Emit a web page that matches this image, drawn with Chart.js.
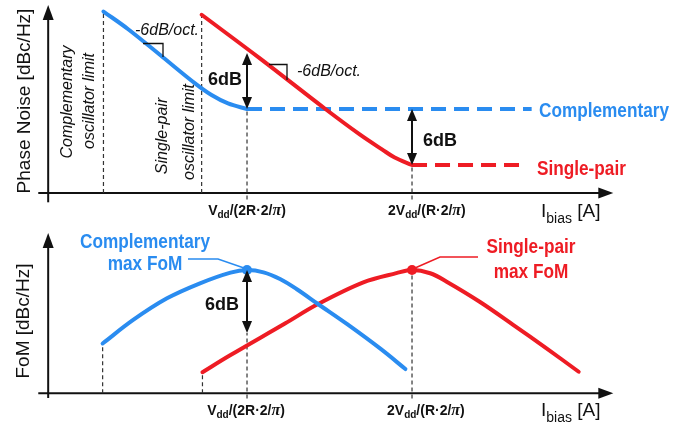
<!DOCTYPE html>
<html>
<head>
<meta charset="utf-8">
<script src="https://cdn.jsdelivr.net/npm/chart.js@4/dist/chart.umd.min.js"></script>
<style>
  html, body { margin: 0; padding: 0; background: #fff; }
  #wrap { position: relative; width: 695px; height: 428px; overflow: hidden; background: #fff; }
  canvas { position: absolute; left: 0; }
  #pn { top: 0; }
  #fom { top: 222px; }
</style>
</head>
<body>
<div id="wrap">
  <canvas id="pn" width="695" height="228"></canvas>
  <canvas id="fom" width="695" height="206"></canvas>
</div>
<script>
// x: bias current in octaves relative to Vdd/(2R·2/π); y: relative level in dB

// Phase noise, complementary oscillator (slope region, then current-limited floor)
const pnCompX = [-1.74, -1.44, -1.02, -0.63, -0.43, -0.23, 0];
const pnCompY = [10.45, 8.55, 5.55, 2.75, 1.5, 0.6, 0];
const pnCompFloorX = [0, 3.45];
const pnCompFloorY = [0, 0];

// Phase noise, single-pair oscillator
const pnSingleX = [-0.55, 0.16, 0.95, 1.37, 1.64, 1.79, 2];
const pnSingleY = [10.1, 5.4, 0, -2.75, -4.35, -5.2, -6];
const pnSingleFloorX = [2, 3.37];
const pnSingleFloorY = [-6, -6];

// Figure of merit, complementary
const fomCompX = [-1.75, -1.38, -0.97, -0.57, -0.2, 0, 0.2, 0.4, 0.6, 0.86, 1.21, 1.62, 1.92];
const fomCompY = [-7.0, -4.76, -2.7, -1.27, -0.25, 0, -0.22, -0.86, -1.81, -3.24, -5.14, -7.52, -9.43];

// Figure of merit, single-pair
const fomSingleX = [-0.54, -0.21, 0.46, 0.86, 1.41, 1.81, 2, 2.22, 2.42, 2.82, 3.23, 3.63, 4.02];
const fomSingleY = [-9.74, -8.15, -5.1, -3.24, -1.17, -0.3, 0, -0.31, -1.11, -3.02, -5.24, -7.46, -9.69];

// Marked bias points on the x axis
const tickValues = [0, 2];
const tickPre = ['V', '2V'];
const tickSub = ['dd', 'dd'];
const tickPost = ['/(2R\u00B72/', '/(R\u00B72/'];

const gapDb = 6;          // difference between the two oscillators
const slopeText = '-6dB/oct.';

const BLUE = '#2a8cf0';
const RED = '#ee1c24';
const INK = '#111111';
const SANS = '"Liberation Sans", Arial, Helvetica, sans-serif';
const SERIF = '"Liberation Serif", "Times New Roman", serif';

const X_MIN = -2.994, X_MAX = 5.430;
const PN_AXIS = -9.0, FOM_AXIS = -11.74;

const pts = (xs, ys) => xs.map((x, i) => ({ x, y: ys[i] }));

// ---------- drawing helpers ----------
function seg(ctx, x1, y1, x2, y2) {
  ctx.beginPath(); ctx.moveTo(x1, y1); ctx.lineTo(x2, y2); ctx.stroke();
}
function head(ctx, x, y, dir, len, half) {
  ctx.beginPath();
  if (dir === 'up') { ctx.moveTo(x, y); ctx.lineTo(x - half, y + len); ctx.lineTo(x + half, y + len); }
  else if (dir === 'down') { ctx.moveTo(x, y); ctx.lineTo(x - half, y - len); ctx.lineTo(x + half, y - len); }
  else { ctx.moveTo(x, y); ctx.lineTo(x - len, y - half); ctx.lineTo(x - len, y + half); }
  ctx.closePath(); ctx.fill();
}
function text(ctx, s, x, y, font, color, align, sx) {
  ctx.save();
  ctx.font = font; ctx.fillStyle = color; ctx.textAlign = align || 'left'; ctx.textBaseline = 'alphabetic';
  ctx.translate(x, y); ctx.scale(sx || 1, 1); ctx.fillText(s, 0, 0);
  ctx.restore();
}
function vtext(ctx, s, cx, cy, font, color) {
  ctx.save();
  ctx.font = font; ctx.fillStyle = color; ctx.textAlign = 'center'; ctx.textBaseline = 'middle';
  ctx.translate(cx, cy); ctx.rotate(-Math.PI / 2); ctx.fillText(s, 0, 0);
  ctx.restore();
}
function rich(ctx, parts, x, y, align) {
  ctx.save();
  let w = 0;
  parts.forEach(p => { ctx.font = p.f; p.w = ctx.measureText(p.t).width; w += p.w; });
  let cx = align === 'center' ? x - w / 2 : x;
  ctx.textAlign = 'left'; ctx.textBaseline = 'alphabetic';
  parts.forEach(p => { ctx.font = p.f; ctx.fillStyle = p.c || INK; ctx.fillText(p.t, cx, y + (p.dy || 0)); cx += p.w; });
  ctx.restore();
}
function tickParts(i) {
  return [
    { t: tickPre[i], f: `bold 14px ${SANS}` },
    { t: tickSub[i], f: `bold 10px ${SANS}`, dy: 3 },
    { t: tickPost[i], f: `bold 14px ${SANS}` },
    { t: '\u03C0', f: `italic bold 16px ${SERIF}` },
    { t: ')', f: `bold 14px ${SANS}` }
  ];
}
function biasTitle(ctx, x, y) {
  rich(ctx, [
    { t: 'I', f: `19px ${SANS}` },
    { t: 'bias', f: `14px ${SANS}`, dy: 6 },
    { t: ' [A]', f: `19px ${SANS}` }
  ], x, y, 'left');
}
function dbArrow(chart, xv, y1, y2) {
  const { ctx, scales: { x, y } } = chart;
  const px = x.getPixelForValue(xv);
  const top = y.getPixelForValue(Math.max(y1, y2));
  const bot = y.getPixelForValue(Math.min(y1, y2));
  ctx.save();
  ctx.strokeStyle = INK; ctx.fillStyle = INK; ctx.lineWidth = 2;
  seg(ctx, px, top + 8, px, bot - 8);
  head(ctx, px, top, 'up', 12, 5);
  head(ctx, px, bot, 'down', 12, 5);
  ctx.restore();
}

// Arrow-tipped axes crossing at the lower left
const arrowAxes = {
  id: 'arrowAxes',
  beforeDatasetsDraw(chart, args, o) {
    const { ctx, scales: { x, y } } = chart;
    const ox = x.getPixelForValue(o.yAxisAt);
    const oy = y.getPixelForValue(o.xAxisAt);
    const xs = x.getPixelForValue(o.xFrom), xe = x.getPixelForValue(o.xTo);
    const yb = y.getPixelForValue(o.yFrom), yt = y.getPixelForValue(o.yTo);
    ctx.save();
    ctx.strokeStyle = INK; ctx.fillStyle = INK; ctx.lineWidth = 2;
    seg(ctx, xs, oy, xe - 10, oy);
    head(ctx, xe, oy, 'right', 15, 5.5);
    seg(ctx, ox, yb, ox, yt + 10);
    head(ctx, ox, yt, 'up', 15, 5.5);
    ctx.restore();
  }
};

const lineBase = {
  fill: false, pointRadius: 0, borderWidth: 4, tension: 0.35,
  borderCapStyle: 'round', borderJoinStyle: 'round'
};
const floorBase = { fill: false, pointRadius: 0, borderWidth: 4, borderDash: [15, 8], borderCapStyle: 'butt', tension: 0 };
const guide = (data) => ({
  data, fill: false, pointRadius: 0, borderWidth: 1.2, borderColor: '#333', borderDash: [4, 3], tension: 0
});

// ---------- phase noise panel ----------
const pnNotes = {
  id: 'pnNotes',
  afterDatasetsDraw(chart) {
    const { ctx, scales: { x, y } } = chart;
    // level difference arrows
    dbArrow(chart, 0, 0, gapDb);
    dbArrow(chart, 2, -gapDb, 0);
    text(ctx, `${gapDb}dB`, 208, 85, `bold 18px ${SANS}`, INK);
    text(ctx, `${gapDb}dB`, 423, 146, `bold 18px ${SANS}`, INK);

    // slope markers
    ctx.save();
    ctx.strokeStyle = INK; ctx.lineWidth = 1.3;
    ctx.beginPath(); ctx.moveTo(143, 43.5); ctx.lineTo(163, 43.5); ctx.lineTo(163, 57); ctx.stroke();
    ctx.beginPath(); ctx.moveTo(269, 64.5); ctx.lineTo(287, 64.5); ctx.lineTo(287, 80); ctx.stroke();
    ctx.restore();
    text(ctx, slopeText, 135, 35, `italic 16px ${SANS}`, INK);
    text(ctx, slopeText, 297, 76, `italic 16px ${SANS}`, INK);

    // oscillator limits
    vtext(ctx, 'Complementary', 68, 102, `italic 16px ${SANS}`, INK);
    vtext(ctx, 'oscillator limit', 90, 101, `italic 16px ${SANS}`, INK);
    vtext(ctx, 'Single-pair', 163, 136, `italic 16px ${SANS}`, INK);
    vtext(ctx, 'oscillator limit', 190, 132, `italic 16px ${SANS}`, INK);

    // series names
    text(ctx, 'Complementary', 539, 116.5, `bold 20px ${SANS}`, BLUE, 'left', 0.86);
    text(ctx, 'Single-pair', 537, 175, `bold 20px ${SANS}`, RED, 'left', 0.86);

    // axis titles and marked bias points
    vtext(ctx, 'Phase Noise [dBc/Hz]', 25, 101, `19px ${SANS}`, INK);
    rich(ctx, tickParts(0), x.getPixelForValue(tickValues[0]), 215, 'center');
    rich(ctx, tickParts(1), x.getPixelForValue(tickValues[1]) - 24, 215, 'left');
    biasTitle(ctx, 541, 217);
  }
};

new Chart(document.getElementById('pn'), {
  type: 'line',
  data: {
    datasets: [
      Object.assign({ data: pts(pnCompX, pnCompY), borderColor: BLUE }, lineBase),
      Object.assign({ data: pts(pnSingleX, pnSingleY), borderColor: RED }, lineBase),
      Object.assign({ data: pts(pnCompFloorX, pnCompFloorY), borderColor: BLUE }, floorBase),
      Object.assign({ data: pts(pnSingleFloorX, pnSingleFloorY), borderColor: RED }, floorBase),
      guide([{ x: pnCompX[0], y: PN_AXIS }, { x: pnCompX[0], y: pnCompY[0] }]),
      guide([{ x: pnSingleX[0], y: PN_AXIS }, { x: pnSingleX[0], y: pnSingleY[0] }]),
      guide([{ x: tickValues[0], y: PN_AXIS - 0.7 }, { x: tickValues[0], y: pnCompFloorY[0] }]),
      guide([{ x: tickValues[1], y: PN_AXIS - 0.7 }, { x: tickValues[1], y: pnSingleFloorY[0] }])
    ]
  },
  options: {
    responsive: false, animation: false, events: [],
    layout: { padding: 0 },
    scales: {
      x: { type: 'linear', min: X_MIN, max: X_MAX, display: false },
      y: { type: 'linear', min: -12.754, max: 11.683, display: false }
    },
    plugins: {
      legend: { display: false }, tooltip: { enabled: false },
      arrowAxes: { yAxisAt: -2.41, xAxisAt: PN_AXIS, xFrom: -2.53, xTo: 4.44, yFrom: -10.0, yTo: 11.15 }
    }
  },
  plugins: [arrowAxes, pnNotes]
});

// ---------- figure of merit panel ----------
const peakIndex = (ys) => ys.indexOf(Math.max(...ys));
const compPeak = peakIndex(fomCompY);
const singlePeak = peakIndex(fomSingleY);

const fomNotes = {
  id: 'fomNotes',
  afterDatasetsDraw(chart) {
    const { ctx, scales: { x, y } } = chart;
    dbArrow(chart, fomCompX[compPeak], fomCompY[compPeak], fomCompY[compPeak] - gapDb);
    text(ctx, `${gapDb}dB`, 205, 88, `bold 18px ${SANS}`, INK);

    // callouts to the maxima
    const bx = x.getPixelForValue(fomCompX[compPeak]), by = y.getPixelForValue(fomCompY[compPeak]);
    const rx = x.getPixelForValue(fomSingleX[singlePeak]), ry = y.getPixelForValue(fomSingleY[singlePeak]);
    ctx.save();
    ctx.lineWidth = 1.5;
    ctx.strokeStyle = BLUE;
    ctx.beginPath(); ctx.moveTo(188, 37); ctx.lineTo(218, 37); ctx.lineTo(bx - 3, by - 2); ctx.stroke();
    ctx.strokeStyle = RED;
    ctx.beginPath(); ctx.moveTo(478, 35); ctx.lineTo(440, 35); ctx.lineTo(rx + 3, ry - 2); ctx.stroke();
    ctx.restore();
    text(ctx, 'Complementary', 145, 26, `bold 20px ${SANS}`, BLUE, 'center', 0.86);
    text(ctx, 'max FoM', 145, 48, `bold 20px ${SANS}`, BLUE, 'center', 0.86);
    text(ctx, 'Single-pair', 531, 31, `bold 20px ${SANS}`, RED, 'center', 0.86);
    text(ctx, 'max FoM', 531, 56, `bold 20px ${SANS}`, RED, 'center', 0.86);

    vtext(ctx, 'FoM [dBc/Hz]', 24, 99, `19px ${SANS}`, INK);
    rich(ctx, tickParts(0), x.getPixelForValue(tickValues[0]) - 1, 193, 'center');
    rich(ctx, tickParts(1), x.getPixelForValue(tickValues[1]) - 25, 193, 'left');
    biasTitle(ctx, 541, 194);
  }
};

new Chart(document.getElementById('fom'), {
  type: 'line',
  data: {
    datasets: [
      Object.assign({}, lineBase, {
        data: pts(fomCompX, fomCompY), borderColor: BLUE, backgroundColor: BLUE,
        pointRadius: c => c.dataIndex === compPeak ? 5 : 0, pointBorderWidth: 0
      }),
      Object.assign({}, lineBase, {
        data: pts(fomSingleX, fomSingleY), borderColor: RED, backgroundColor: RED,
        pointRadius: c => c.dataIndex === singlePeak ? 5 : 0, pointBorderWidth: 0
      }),
      guide([{ x: fomCompX[0], y: FOM_AXIS }, { x: fomCompX[0], y: fomCompY[0] }]),
      guide([{ x: fomSingleX[0], y: FOM_AXIS }, { x: fomSingleX[0], y: fomSingleY[0] }]),
      guide([{ x: tickValues[0], y: FOM_AXIS - 0.5 }, { x: tickValues[0], y: fomCompY[compPeak] - gapDb }]),
      guide([{ x: tickValues[1], y: FOM_AXIS - 0.5 }, { x: tickValues[1], y: fomSingleY[singlePeak] }])
    ]
  },
  options: {
    responsive: false, animation: false, events: [],
    layout: { padding: 0 },
    scales: {
      x: { type: 'linear', min: X_MIN, max: X_MAX, display: false },
      y: { type: 'linear', min: -15.048, max: 4.571, display: false }
    },
    plugins: {
      legend: { display: false }, tooltip: { enabled: false },
      arrowAxes: { yAxisAt: -2.41, xAxisAt: FOM_AXIS, xFrom: -2.53, xTo: 4.44, yFrom: -12.19, yTo: 3.52 }
    }
  },
  plugins: [arrowAxes, fomNotes]
});
</script>
</body>
</html>
